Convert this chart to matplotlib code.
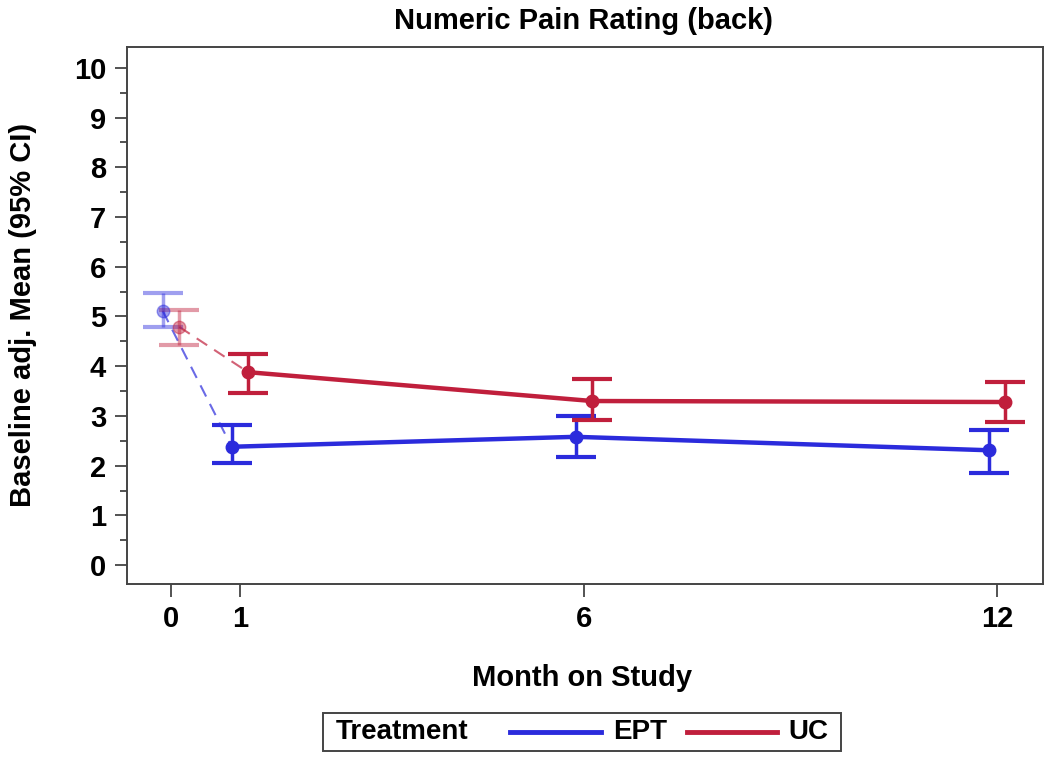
import matplotlib
matplotlib.use("Agg")
import matplotlib.pyplot as plt
from matplotlib.lines import Line2D
from matplotlib.patches import Rectangle

plt.rcParams['font.family'] = ['Liberation Sans', 'DejaVu Sans']

months = [0, 1, 6, 12]
month_labels = ["0", "1", "6", "12"]
ept_mean = [5.11, 2.38, 2.58, 2.31]
ept_lo = [4.79, 2.05, 2.17, 1.85]
ept_hi = [5.47, 2.82, 3.00, 2.72]
uc_mean = [4.79, 3.88, 3.30, 3.28]
uc_lo = [4.43, 3.46, 2.92, 2.88]
uc_hi = [5.13, 4.25, 3.74, 3.68]

blue = "#2b2bdc"
red = "#c01f3c"
offset = 0.12

W, H = 1050, 761
fig = plt.figure(figsize=(W / 100, H / 100), dpi=100)
ax = fig.add_axes([127 / W, 1 - 584 / H, (1043 - 127) / W, (584 - 47) / H])

def draw(mean, lo, hi, color, dx):
    xs = [m + dx for m in months]
    ax.plot(xs[:2], mean[:2], color=color, lw=1.5, ls=(0, (6, 4)), alpha=0.7, zorder=2)
    ax.plot(xs[1:], mean[1:], color=color, lw=3.2, solid_capstyle='round', zorder=3)
    for i, x in enumerate(xs):
        a = 0.45 if i == 0 else 1.0
        ax.errorbar([x], [mean[i]], yerr=[[mean[i] - lo[i]], [hi[i] - mean[i]]],
                    fmt='o', color=color, ms=9, capsize=14.5, capthick=3, elinewidth=2.5,
                    alpha=a, zorder=4)

draw(ept_mean, ept_lo, ept_hi, blue, -offset)
draw(uc_mean, uc_lo, uc_hi, red, offset)

ax.set_xlim(-0.64, 12.67)
ax.set_ylim(-0.38, 10.42)
ax.set_xticks(months)
ax.set_xticklabels(month_labels)
ax.set_yticks(range(0, 11))
ax.set_yticks([i + 0.5 for i in range(0, 10)], minor=True)
ax.tick_params(axis='both', which='major', labelsize=21, length=9, width=1.3,
               direction='out', color='#444444', pad=6)
ax.tick_params(axis='y', which='minor', length=5, width=1.3, color='#444444')
for lab in ax.get_xticklabels() + ax.get_yticklabels():
    lab.set_fontweight('bold')
for s in ax.spines.values():
    s.set_linewidth(1.4)
    s.set_color('#444444')

fig.text(0.5 * (390 + 777) / W, 1 - 21 / H, "Numeric Pain Rating (back)", fontsize=21,
         fontweight='bold', ha='center', va='center')
ax.set_xlabel("Month on Study", fontsize=21, fontweight='bold')
ax.set_ylabel("Baseline adj. Mean (95% CI)", fontsize=21, fontweight='bold')
ax.xaxis.set_label_coords((582 - 127) / (1043 - 127), (584 - 664) / (584 - 47))
ax.yaxis.set_label_coords((37 - 127) / (1043 - 127), (584 - 315) / (584 - 47))

# legend box drawn in figure pixel coordinates
def fx(px):
    return px / W

def fy(py):
    return 1 - py / H

fig.patches.append(Rectangle((fx(323), fy(751)), fx(841) - fx(323), fy(713) - fy(751),
                             transform=fig.transFigure, fill=False, edgecolor='#444444',
                             linewidth=1.4))
ly = 732
fig.text(fx(336), fy(ly), "Treatment", fontsize=20, fontweight='bold', ha='left', va='center')
fig.add_artist(Line2D([fx(510), fx(601)], [fy(ly), fy(ly)], color=blue, lw=3.5,
                      transform=fig.transFigure))
fig.text(fx(613), fy(ly), "EPT", fontsize=20, fontweight='bold', ha='left', va='center')
fig.add_artist(Line2D([fx(687), fx(777)], [fy(ly), fy(ly)], color=red, lw=3.5,
                      transform=fig.transFigure))
fig.text(fx(788), fy(ly), "UC", fontsize=20, fontweight='bold', ha='left', va='center')

fig.savefig("out.png", dpi=100)
